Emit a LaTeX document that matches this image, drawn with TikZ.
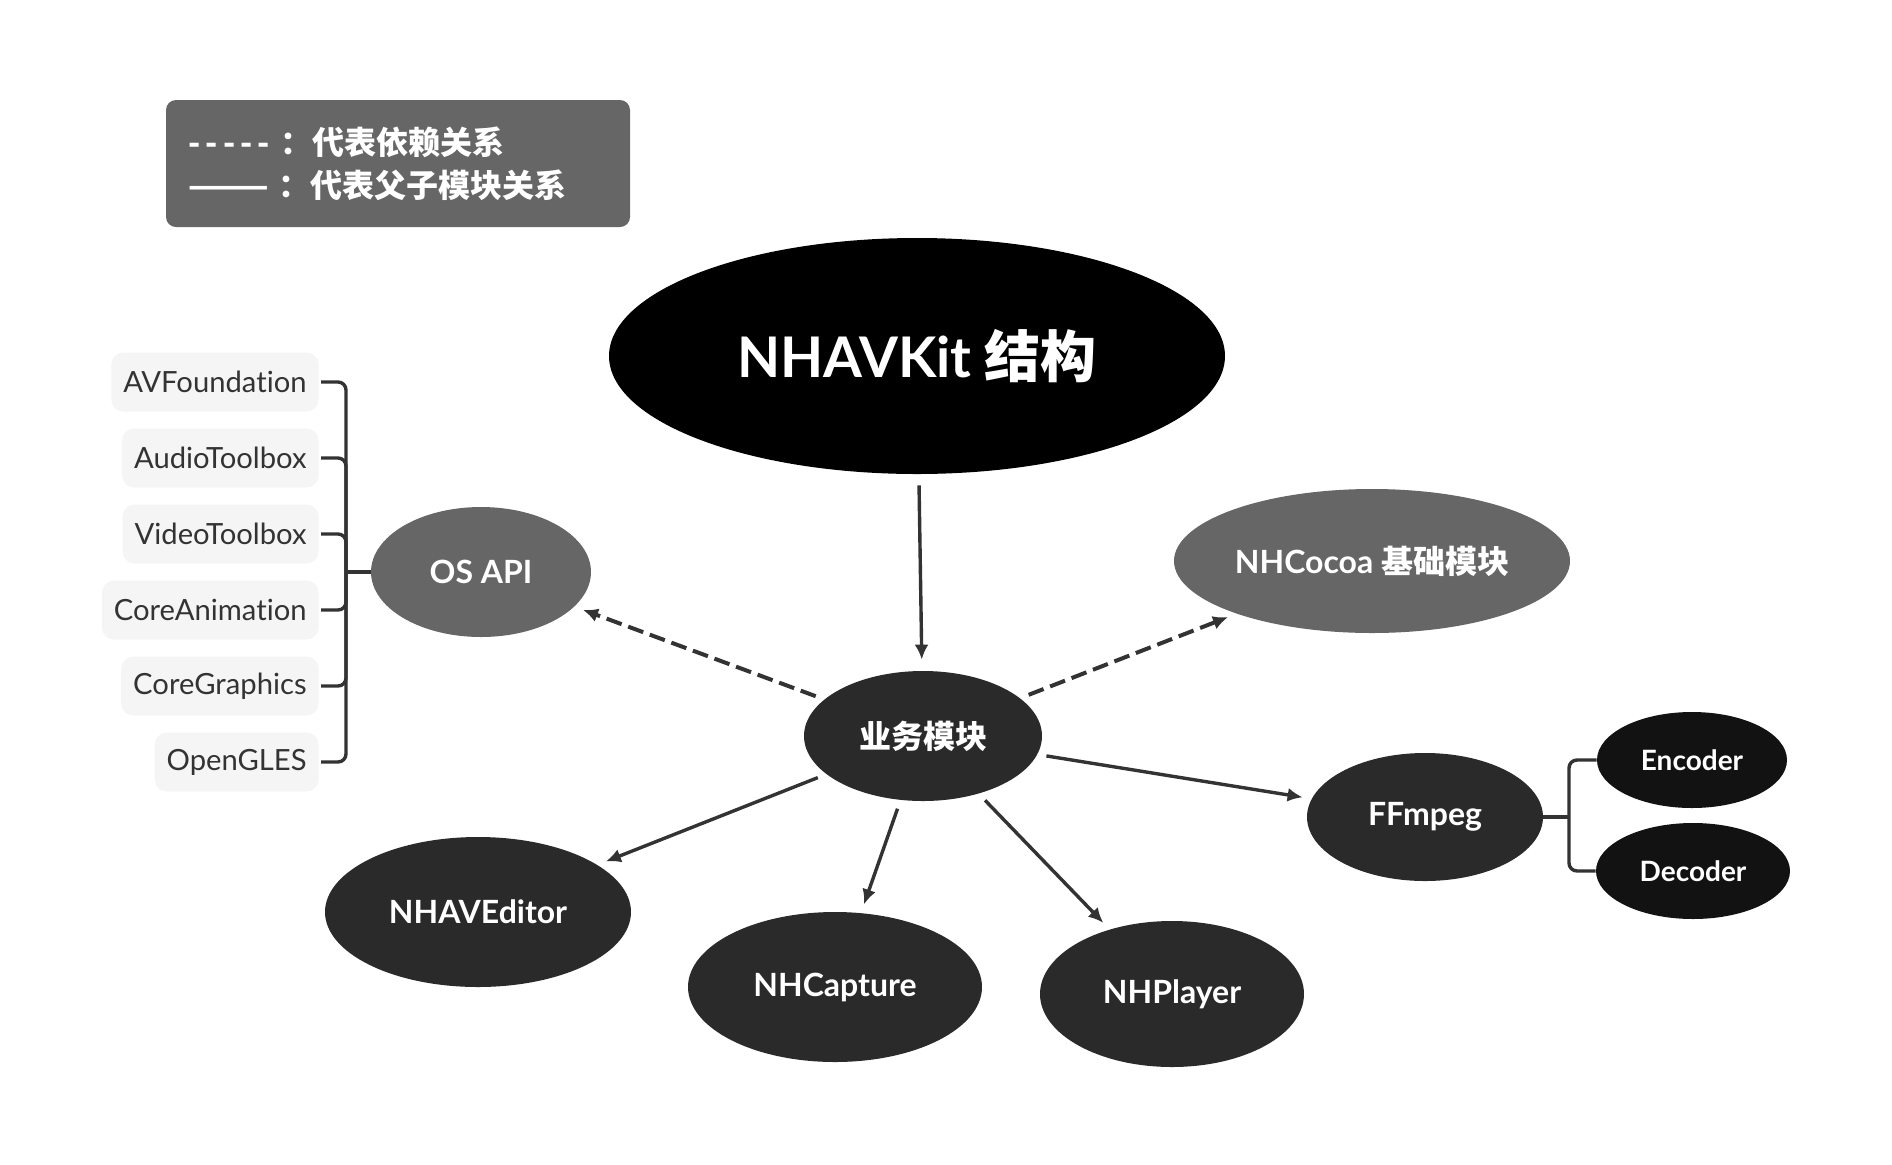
\documentclass[tikz,border=0pt]{standalone}
\usepackage{fontspec}
\setmainfont{Lato}[Ligatures=NoCommon]
\newfontfamily\cjk{Noto Sans CJK SC}
\usetikzlibrary{arrows.meta,positioning,shapes.geometric}
\definecolor{nhBlack}{HTML}{000000}
\definecolor{nhDark} {HTML}{2A2A2A}
\definecolor{nhDeep} {HTML}{121212}
\definecolor{nhGray} {HTML}{666666}
\definecolor{nhLine} {HTML}{333333}
\definecolor{nhBox}  {HTML}{F5F5F5}

\begin{document}
\begin{tikzpicture}[x=0.5pt,y=-0.5pt,
      ell/.style={ellipse,inner sep=0pt,text=white,
                  font=\fontsize{16}{19}\selectfont\bfseries},
      fw/.style={rectangle,rounded corners=6pt,fill=nhBox,text=nhLine,
                 minimum height=29.5pt,inner xsep=6pt,
                 font=\fontsize{14.6}{18}\selectfont},
      legtext/.style={text=white,inner sep=0pt,
                      font=\cjk\bfseries\fontsize{16}{19}\selectfont},
      tie/.style={nhLine,line width=1.7pt,rounded corners=4pt},
      dep/.style={-{Latex[length=7.5pt,width=7pt]},nhLine,line width=2pt,
                  dash pattern=on 8pt off 3.5pt,shorten <=4.5pt,shorten >=4.5pt},
      own/.style={-{Latex[length=7.5pt,width=7pt]},nhLine,line width=1.7pt,
                  shorten <=4.5pt,shorten >=4.5pt}]
    \useasboundingbox (0,0) rectangle (1892,1164);

    % legend
    \node[fill=nhGray,rounded corners=5pt,minimum width=232pt,
          minimum height=63.5pt] (lgd) at (398,163.5) {};
    \node[legtext,anchor=west] (ldep) at (188,142)
      {{\addfontfeature{LetterSpace=16}-----}\hspace*{5pt}：代表依赖关系};
    \node[legtext,anchor=west] (lown) at (188,185)
      {———\hspace*{5pt}：代表父子模块关系};

    % modules
    \node[ell,fill=nhBlack,minimum width=308pt,minimum height=118pt,
          font=\fontsize{28}{32}\selectfont\bfseries] (root) at (917,356)
      {NHAVKit {\cjk 结构}};
    \node[ell,fill=nhDark,minimum width=119pt,minimum height=65pt] (biz) at (923,736) {\cjk 业务模块};
    \node[ell,fill=nhGray,minimum width=110pt,minimum height=65pt] (os) at (481,572) {OS API};
    \node[ell,fill=nhGray,minimum width=198pt,minimum height=72pt] (cocoa) at (1372,561)
      {NHCocoa {\cjk 基础模块}};
    \node[ell,fill=nhDark,minimum width=118pt,minimum height=64pt] (ff) at (1425,817) {FFmpeg};
    \node[ell,fill=nhDeep,minimum width=95pt,minimum height=48pt,
          font=\fontsize{14}{17}\selectfont\bfseries] (enc) at (1692,760) {Encoder};
    \node[ell,fill=nhDeep,minimum width=97pt,minimum height=48pt,
          font=\fontsize{14}{17}\selectfont\bfseries] (dec) at (1693,871) {Decoder};
    \node[ell,fill=nhDark,minimum width=153pt,minimum height=75pt] (edit) at (478,912) {NHAVEditor};
    \node[ell,fill=nhDark,minimum width=147pt,minimum height=75pt] (cap) at (835,987) {NHCapture};
    \node[ell,fill=nhDark,minimum width=132pt,minimum height=73pt] (play) at (1172,994) {NHPlayer};

    % system frameworks
    \foreach \n/\t [count=\i from 0] in {av/AVFoundation,audio/AudioToolbox,
        video/VideoToolbox,anim/CoreAnimation,gfx/CoreGraphics,gles/OpenGLES}
      \node[fw,anchor=east] (\n) at (319,382+76*\i) {\t};

    \coordinate (osj) at (346,572);
    \foreach \n in {av,audio,video,anim,gfx,gles}
      \draw[tie] ([xshift=1pt]\n.east) -| (osj);
    \draw[tie] (osj) -- (os);

    \coordinate (ffj) at (1569,817);
    \draw[tie] (ff) -- (ffj);
    \draw[tie] (enc.west) -| (ffj);
    \draw[tie] (dec.west) -| (ffj);

    % connectors
    \draw[own,shorten <=5.5pt,shorten >=5.5pt] (root) -- (biz);
    \draw[dep] (biz) -- (os);
    \draw[dep] (biz) -- (cocoa);
    \foreach \t in {ff,edit,cap,play}
      \draw[own] (biz) -- (\t);
  \end{tikzpicture}
\end{document}
